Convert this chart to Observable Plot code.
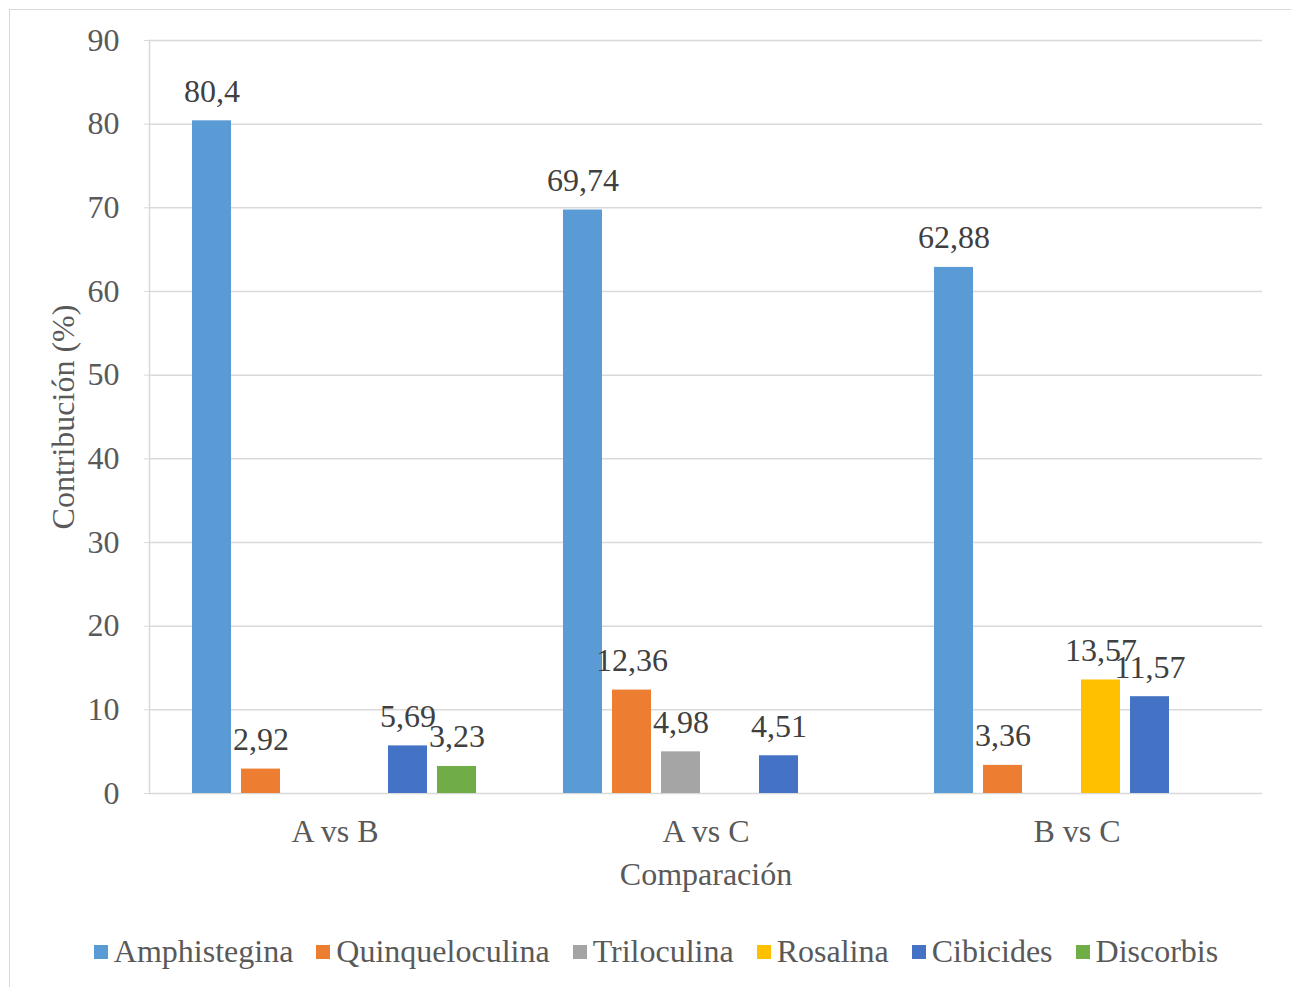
<!DOCTYPE html>
<html>
<head>
<meta charset="utf-8">
<script src="https://cdn.jsdelivr.net/npm/d3@7"></script>
<script src="https://cdn.jsdelivr.net/npm/@observablehq/plot@0.6"></script>
<style>
  html, body { margin: 0; padding: 0; background: #fff; overflow: hidden; }
  #frame { position: absolute; left: 9px; top: 9px; width: 1400px; height: 1100px; border: 1px solid #d9d9d9; box-sizing: border-box; }
  #chart { position: absolute; left: 0; top: 0; }
  #legend { position: absolute; left: 0; top: 933px; width: 1312px; display: flex; justify-content: center; }
  .lg-swatch { margin-right: 23px !important; }
  .lg-swatch:last-child { margin-right: 0 !important; }
  .lg-swatch > svg { margin-right: 6px !important; }
</style>
</head>
<body>
<div id="frame"></div>
<div id="chart"></div>
<div id="legend"></div>
<script>
// Comparisons and species
const groups = ["A vs B", "A vs C", "B vs C"];
const series = ["Amphistegina", "Quinqueloculina", "Triloculina", "Rosalina", "Cibicides", "Discorbis"];
const colors = ["#5B9BD5", "#ED7D31", "#A5A5A5", "#FFC000", "#4472C4", "#70AD47"];

// Contribution (%) of each species per comparison (null = not a contributor)
const amphistegina    = [80.4, 69.74, 62.88];
const quinqueloculina = [2.92, 12.36, 3.36];
const triloculina     = [null, 4.98, null];
const rosalina        = [null, null, 13.57];
const cibicides       = [5.69, 4.51, 11.57];
const discorbis       = [3.23, null, null];

const yTicks = [0, 10, 20, 30, 40, 50, 60, 70, 80, 90];

const valuesBySeries = [amphistegina, quinqueloculina, triloculina, rosalina, cibicides, discorbis];
const data = [];
groups.forEach((g, gi) => {
  series.forEach((s, si) => {
    const v = valuesBySeries[si][gi];
    if (v != null) data.push({group: g, series: s, value: v});
  });
});

const fmt = v => String(v).replace(".", ",");
const serif = "'Liberation Serif', 'Times New Roman', serif";
const fs = 32;

const chart = Plot.plot({
  width: 1291,
  height: 900,
  marginTop: 40,
  marginBottom: 107,
  marginLeft: 148,
  marginRight: 29,
  style: {fontFamily: serif, fontSize: fs + "px", background: "transparent"},
  fx: {domain: groups, padding: 0, label: null},
  x: {domain: series, paddingInner: 0.2, paddingOuter: 0.84, axis: null},
  y: {domain: [0, 90]},
  color: {domain: series, range: colors},
  marks: [
    Plot.gridY(yTicks, {stroke: "#d9d9d9", strokeOpacity: 1, strokeWidth: 1.5}),
    Plot.frame({anchor: "left", facetAnchor: "left", stroke: "#d9d9d9", strokeWidth: 1.5}),
    Plot.axisY(yTicks, {tickSize: 5, tickPadding: 25, stroke: "#d9d9d9", fill: "#595959", fontSize: fs, label: null}),
    Plot.axisFx({anchor: "bottom", tickSize: 0, tickPadding: 26, fill: "#595959", fontSize: fs, label: null}),
    Plot.barY(data, {fx: "group", x: "series", y: "value", fill: "series"}),
    Plot.text(data, {
      fx: "group", x: "series", y: "value",
      text: d => fmt(d.value),
      dy: -19, lineAnchor: "bottom", fill: "#404040", fontSize: fs
    }),
    Plot.text(["Comparación"], {
      frameAnchor: "bottom", facet: "super", dy: 91, lineAnchor: "bottom",
      textAnchor: "middle", fill: "#595959", fontSize: fs
    }),
    Plot.text(["Contribución (%)"], {
      frameAnchor: "left", facet: "super", rotate: -90, dx: -76, lineAnchor: "bottom",
      textAnchor: "middle", fill: "#595959", fontSize: fs
    })
  ]
});
document.getElementById("chart").appendChild(chart);

const legend = Plot.legend({
  color: {domain: series, range: colors},
  legend: "swatches",
  swatchSize: 14,
  className: "lg",
  style: {fontFamily: serif, fontSize: fs + "px", color: "#595959"}
});
document.getElementById("legend").appendChild(legend);
</script>
</body>
</html>
